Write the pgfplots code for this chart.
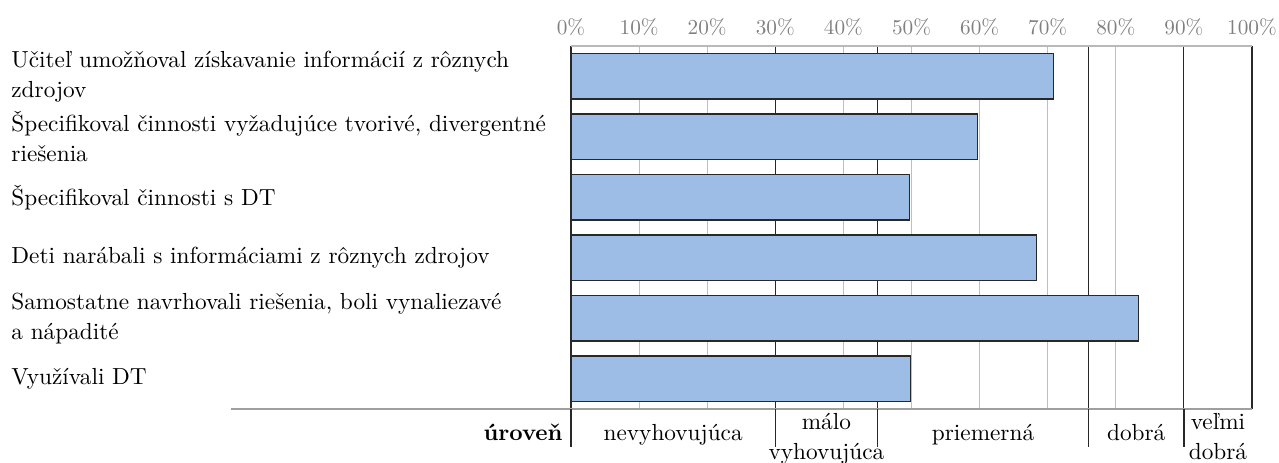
\documentclass[border=0pt]{standalone}
\usepackage{pgfplots}
\pgfplotsset{compat=1.18}
\definecolor{barblue}{RGB}{157,189,230}
\definecolor{gridgray}{RGB}{191,191,191}
\definecolor{darkline}{RGB}{40,40,40}
\definecolor{ticktext}{RGB}{128,128,128}
\begin{document}
\begin{tikzpicture}[every node/.style={font=\fontsize{10.95}{14.2}\selectfont}]
\path[use as bounding box] (0,0) rectangle (602.15pt,217.51pt);
\begin{axis}[
  at={(268.83pt,24.95pt)}, anchor=south west,
  scale only axis, width=320.61pt, height=170.90pt,
  xmin=0, xmax=100, ymin=0.5, ymax=6.5, y dir=reverse,
  xbar, bar width=21.37pt,
  clip=false,
  axis line style={draw=none},
  major tick length=0pt,
  xtick={0,10,...,100},
  xticklabel pos=right,
  xticklabel={\pgfmathprintnumber{\tick}\%},
  xticklabel style={text=ticktext, yshift=1.2pt, font=\fontsize{10}{12}\selectfont},
  xmajorgrids,
  major grid style={gridgray, line width=0.47pt},
  extra x ticks={0,30,45,76,90,100},
  extra x tick labels={},
  extra x tick style={grid=major, major grid style={darkline, line width=0.55pt}},
  ytick={1,...,6},
  yticklabels={{Učiteľ umožňoval získavanie informácií z rôznych\\zdrojov},
               {Špecifikoval činnosti vyžadujúce tvorivé, divergentné\\riešenia},
               {Špecifikoval činnosti s DT},
               {Deti narábali s informáciami z rôznych zdrojov},
               {Samostatne navrhovali riešenia, boli vynaliezavé\\a nápadité},
               {Využívali DT}},
  yticklabel style={anchor=west, align=left, inner sep=0pt, xshift=-263.65pt,
                    font=\fontsize{10.95}{14.2}\selectfont},
]
\addplot[fill=barblue, draw=darkline, line width=0.55pt]
  coordinates {(70.9,1) (59.7,2) (49.7,3) (68.3,4) (83.3,5) (49.8,6)};
\coordinate (TL) at (axis cs:0,0.5);
\coordinate (TR) at (axis cs:100,0.5);
\coordinate (BL) at (axis cs:0,6.5);
\coordinate (BR) at (axis cs:100,6.5);
\coordinate (L30) at (axis cs:30,6.5);
\coordinate (L45) at (axis cs:45,6.5);
\coordinate (L76) at (axis cs:76,6.5);
\coordinate (L90) at (axis cs:90,6.5);
\coordinate (C15) at (axis cs:15,6.5);
\coordinate (C375) at (axis cs:37.5,6.5);
\coordinate (C605) at (axis cs:60.5,6.5);
\coordinate (C83) at (axis cs:83,6.5);
\coordinate (C95) at (axis cs:95,6.5);
\end{axis}
% frame lines
\draw[gray!55, line width=0.5pt] (TL) -- (TR);
\draw[gray!75, line width=0.5pt] ([xshift=-160.07pt]BL) -- (BR);
\foreach \c in {BL,L30,L45,L76,L90}{
  \draw[darkline, line width=0.55pt] (\c) -- ++(0,-17.89pt);
}
% level labels
\node[anchor=base east, inner sep=0pt] at ([xshift=-3.77pt, yshift=-14.59pt]BL) {\textbf{úroveň}};
\node[anchor=base, inner sep=0pt] at ([yshift=-14.59pt]C15) {nevyhovujúca};
\node[anchor=base, inner sep=0pt] at ([yshift=-9.8pt]C375) {málo};
\node[anchor=base, inner sep=0pt] at ([yshift=-23.6pt]C375) {vyhovujúca};
\node[anchor=base, inner sep=0pt] at ([yshift=-14.59pt]C605) {priemerná};
\node[anchor=base, inner sep=0pt] at ([yshift=-14.59pt]C83) {dobrá};
\node[anchor=base, inner sep=0pt] at ([yshift=-9.8pt]C95) {veľmi};
\node[anchor=base, inner sep=0pt] at ([yshift=-23.6pt]C95) {dobrá};
\end{tikzpicture}
\end{document}
